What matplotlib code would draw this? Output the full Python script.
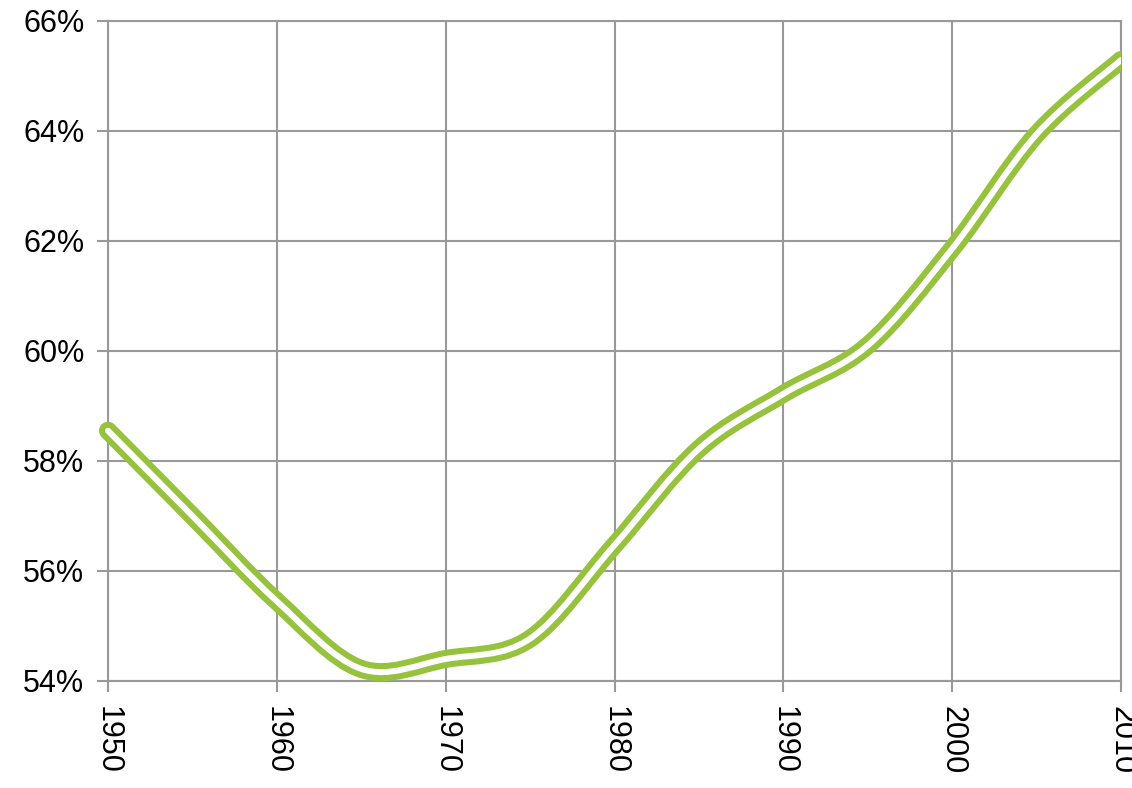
import numpy as np
import matplotlib
matplotlib.use("Agg")
import matplotlib.pyplot as plt
from matplotlib.path import Path
from matplotlib.patches import PathPatch, Rectangle
from matplotlib.ticker import FuncFormatter

#data (5-year steps)
years = [1950, 1955, 1960, 1965, 1970, 1975, 1980, 1985, 1990, 1995, 2000, 2005, 2010]
share = [58.55, 57.0, 55.45, 54.22, 54.4, 54.77, 56.47, 58.22, 59.22, 60.1, 61.86, 63.94, 65.29]

x_ticks = [1950, 1960, 1970, 1980, 1990, 2000, 2010]
y_ticks = [54, 56, 58, 60, 62, 64, 66]

green = '#97C23D'
grid_gray = '#999999'

plt.rcParams['font.family'] = ['Liberation Sans', 'DejaVu Sans']


def smooth_path(xs, ys):
    # excel-like smoothed line: cubic bezier through the points
    pts = np.column_stack([xs, ys]).astype(float)
    n = len(pts)
    verts = [pts[0]]
    codes = [Path.MOVETO]
    for i in range(n - 1):
        p_prev = pts[i - 1] if i > 0 else pts[i]
        p_next2 = pts[i + 2] if i + 2 < n else pts[i + 1]
        c1 = pts[i] + (pts[i + 1] - p_prev) / 6.0
        c2 = pts[i + 1] - (p_next2 - pts[i]) / 6.0
        verts += [c1, c2, pts[i + 1]]
        codes += [Path.CURVE4] * 3
    return Path(verts, codes)


fig = plt.figure(figsize=(11.32, 7.88), dpi=100)
ax = fig.add_axes([0.0954, 0.1358, 0.8949, 0.8376])

ax.set_xlim(1950, 2010)
ax.set_ylim(54, 66)
ax.set_xticks(x_ticks)
ax.set_yticks(y_ticks)
ax.yaxis.set_major_formatter(FuncFormatter(lambda v, p: '%d%%' % v))

ax.grid(True, color=grid_gray, lw=1.5)
ax.set_axisbelow(True)
for s in ax.spines.values():
    s.set_color(grid_gray)
    s.set_linewidth(1.5)

ax.tick_params(axis='both', direction='out', length=8, width=1.5, color=grid_gray,
               labelsize=22, labelcolor='black')
ax.tick_params(axis='y', pad=9)
ax.tick_params(axis='x', pad=10)
for lab in ax.get_xticklabels():
    lab.set_rotation(270)
    lab.set_va('top')
    lab.set_ha('center')

#double line: thick green with thin white on top
path = smooth_path(years, share)
clip = Rectangle((-0.05, -0.05), 1.05, 1.1, transform=ax.transAxes, visible=False)
ax.add_patch(clip)
for lw, col in [(13, green), (4.3, 'white')]:
    patch = PathPatch(path, facecolor='none', edgecolor=col, lw=lw,
                      capstyle='round', joinstyle='round', zorder=3)
    ax.add_patch(patch)
    patch.set_clip_path(clip)

fig.savefig('out.png', dpi=100)
